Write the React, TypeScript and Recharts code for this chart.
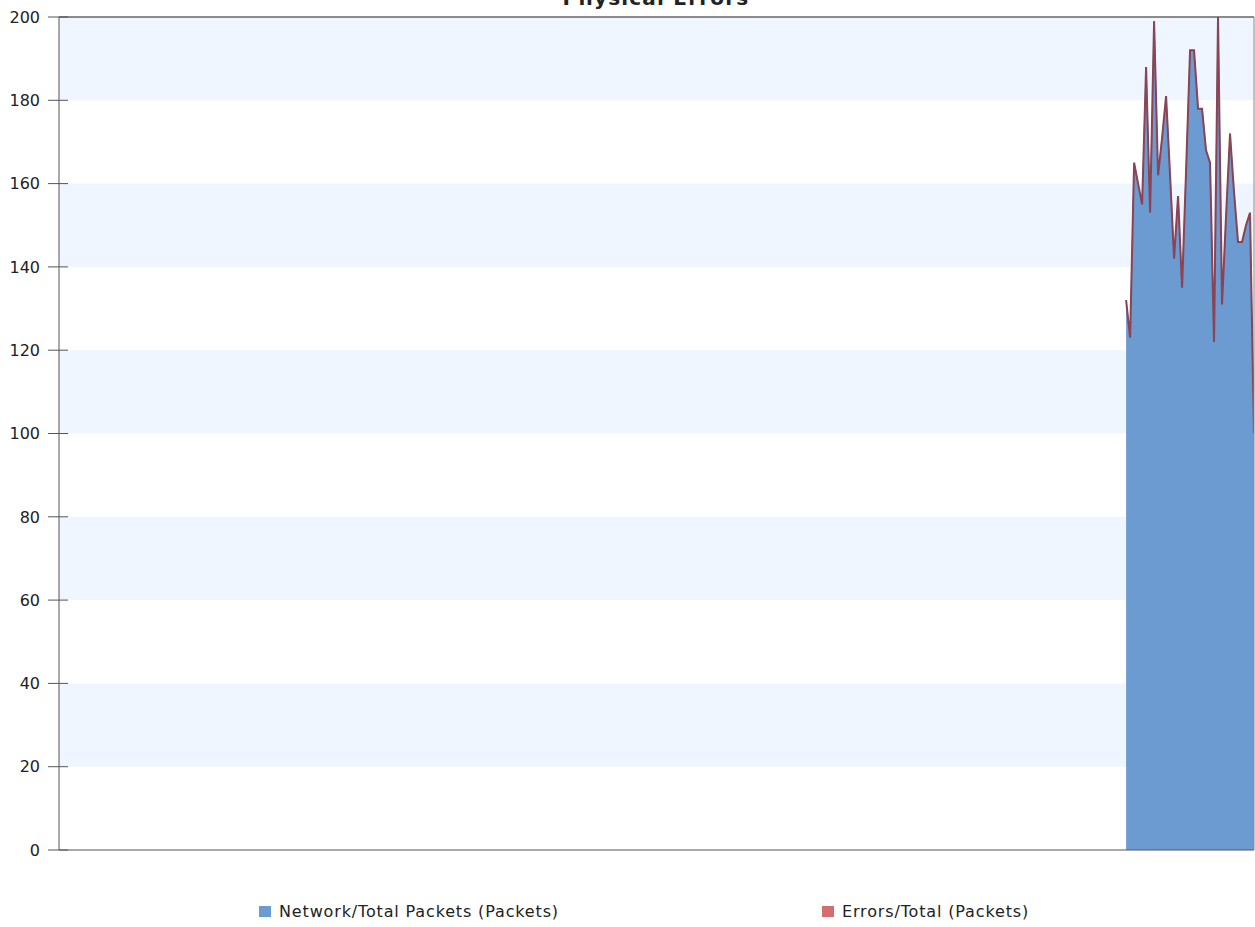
import {
  Area,
  ComposedChart,
  Line,
  ReferenceArea,
  ReferenceLine,
  XAxis,
  YAxis,
} from "recharts";

const TITLE = "Physical Errors";

const SERIES_NAMES = ["Network/Total Packets (Packets)", "Errors/Total (Packets)"];
const SERIES_COLORS = ["#6b9bd1", "#d46e6e"];

// sample slots on the (unlabelled) time axis; only the last ones have data
const X_DOMAIN: [number, number] = [0, 299];
const SAMPLE_INDEX = [
  267, 268, 269, 270, 271, 272, 273, 274, 275, 276, 277, 278, 279, 280, 281,
  282, 283, 284, 285, 286, 287, 288, 289, 290, 291, 292, 293, 294, 295, 296,
  297, 298, 299,
];

const NETWORK_PACKETS = [
  132, 123, 165, 160, 155, 188, 153, 199, 162, 171, 181, 162, 142, 157, 135,
  163, 192, 192, 178, 178, 168, 165, 122, 200, 131, 152, 172, 158, 146, 146,
  150, 153, 100,
];

const ERRORS_TOTAL = [
  132, 123, 165, 160, 155, 188, 153, 199, 162, 171, 181, 162, 142, 157, 135,
  163, 192, 192, 178, 178, 168, 165, 122, 200, 131, 152, 172, 158, 146, 146,
  150, 153, 100,
];

const Y_TICKS = [0, 20, 40, 60, 80, 100, 120, 140, 160, 180, 200];

const data = SAMPLE_INDEX.map((t, i) => ({
  t,
  packets: NETWORK_PACKETS[i],
  errors: ERRORS_TOTAL[i],
}));

// shaded bands: 20-40, 60-80, ... 180-200
const bands = Y_TICKS.slice(0, -1)
  .map((v, i) => [v, Y_TICKS[i + 1]])
  .filter((_, i) => i % 2 === 1);

const FONT = "'DejaVu Sans', Verdana, sans-serif";
const TICK_SIZE = 11;
const TICK_MARGIN = 8;

function YTick({ x, y, payload }: { x?: number; y?: number; payload?: { value: number } }) {
  if (x == null || y == null || !payload) return null;
  const axisX = x + TICK_SIZE + TICK_MARGIN;
  return (
    <g>
      <line x1={axisX - TICK_SIZE} x2={axisX + 9} y1={y} y2={y} stroke="#555" />
      <text
        x={x}
        y={y}
        dy="0.36em"
        textAnchor="end"
        fill="#222"
        fontSize={16}
        fontFamily={FONT}
      >
        {payload.value}
      </text>
    </g>
  );
}

export default function App() {
  return (
    <div
      style={{
        position: "fixed",
        left: 0,
        top: 0,
        width: 1255,
        height: 927,
        overflow: "hidden",
        background: "#fff",
      }}
    >
      <div
        style={{
          position: "absolute",
          top: -12,
          left: 0,
          width: 1312,
          textAlign: "center",
          fontFamily: FONT,
          fontWeight: "bold",
          fontSize: 20,
          lineHeight: "20px",
          letterSpacing: 1.2,
          color: "#222",
        }}
      >
        {TITLE}
      </div>

      <ComposedChart
        width={1255}
        height={927}
        data={data}
        margin={{ top: 17, right: 0, bottom: 0, left: 0 }}
      >
        {bands.map(([lo, hi]) => (
          <ReferenceArea
            key={lo}
            y1={lo}
            y2={hi}
            fill="#eff6ff"
            fillOpacity={1}
            stroke="none"
          />
        ))}
        <XAxis
          dataKey="t"
          type="number"
          domain={X_DOMAIN}
          allowDataOverflow
          height={77}
          tick={false}
          tickLine={false}
          axisLine={{ stroke: "#555" }}
        />
        <YAxis
          domain={[0, 200]}
          ticks={Y_TICKS}
          allowDataOverflow
          width={59}
          tickSize={TICK_SIZE}
          tickMargin={TICK_MARGIN}
          tickLine={false}
          tick={<YTick />}
          axisLine={{ stroke: "#555" }}
        />
        <YAxis
          yAxisId="right"
          orientation="right"
          domain={[0, 200]}
          width={1}
          tick={false}
          tickLine={false}
          axisLine={{ stroke: "#888" }}
        />
        <ReferenceLine y={200} stroke="#666" strokeWidth={1.5} />
        <Area
          dataKey="packets"
          name={SERIES_NAMES[0]}
          type="linear"
          fill={SERIES_COLORS[0]}
          fillOpacity={1}
          stroke="#5a88c0"
          strokeWidth={1}
          dot={false}
          activeDot={false}
          isAnimationActive={false}
        />
        <Line
          dataKey="errors"
          name={SERIES_NAMES[1]}
          type="linear"
          stroke="#8a4453"
          strokeWidth={2}
          dot={false}
          activeDot={false}
          isAnimationActive={false}
        />
      </ComposedChart>

      {SERIES_NAMES.map((name, i) => (
        <div
          key={name}
          style={{
            position: "absolute",
            top: 902,
            left: i === 0 ? 259 : 822,
            display: "flex",
            alignItems: "center",
            fontFamily: FONT,
            fontSize: 16,
            letterSpacing: 0.85,
            color: "#222",
            whiteSpace: "nowrap",
          }}
        >
          <span
            style={{
              display: "inline-block",
              width: 12,
              height: 11,
              background: SERIES_COLORS[i],
              marginRight: 8,
            }}
          />
          {name}
        </div>
      ))}
    </div>
  );
}
